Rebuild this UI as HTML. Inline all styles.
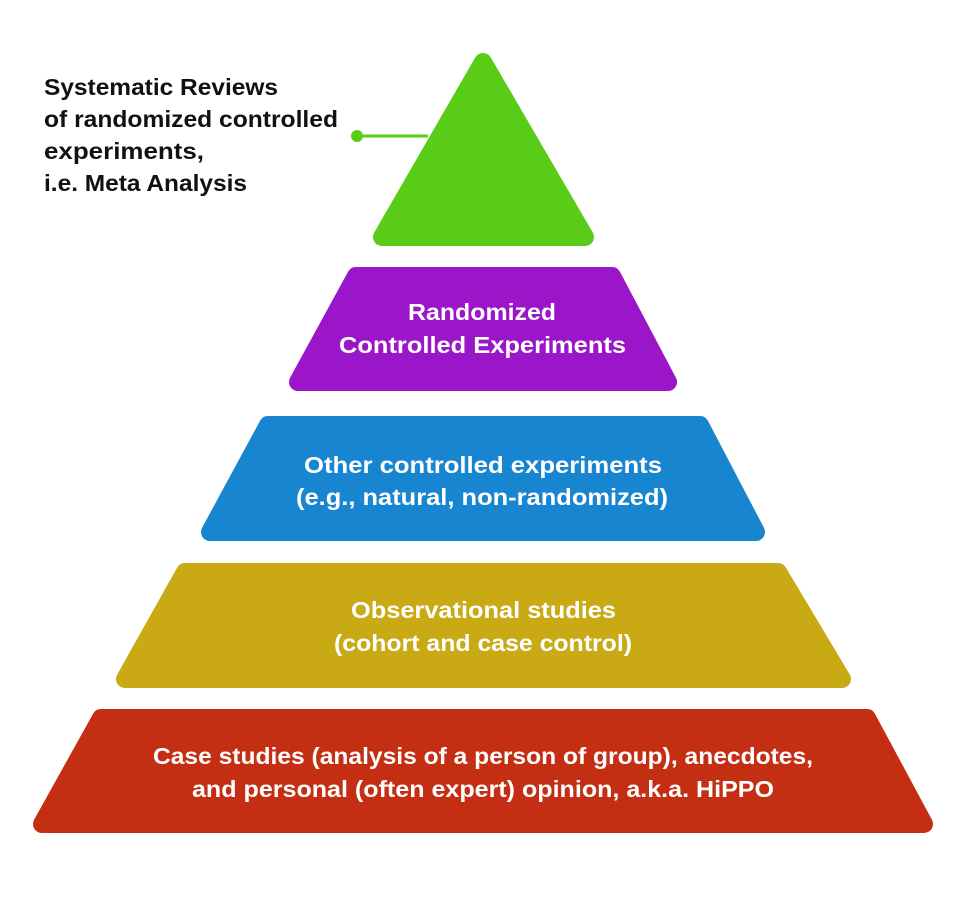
<!DOCTYPE html>
<html><head><meta charset="utf-8"><style>
html,body{margin:0;padding:0;background:#fff;}
svg{display:block}
text{font-family:"Liberation Sans",sans-serif;font-weight:bold;}
</style></head><body>
<svg width="967" height="900" viewBox="0 0 967 900" xmlns="http://www.w3.org/2000/svg">
<rect width="967" height="900" fill="#fff"/>
<g stroke-linejoin="round" stroke-width="18">
<polygon points="483,62 382,237 585,237" fill="#58cc16" stroke="#58cc16"/>
<polygon points="356,276 612,276 668,382 298,382" fill="#9b16c8" stroke="#9b16c8"/>
<polygon points="268,425 700,425 756,532 210,532" fill="#1785cf" stroke="#1785cf"/>
<polygon points="185,572 778,572 842,679 125,679" fill="#c9aa15" stroke="#c9aa15"/>
<polygon points="101,718 867,718 924,824 42,824" fill="#c42e13" stroke="#c42e13"/>
</g>
<line x1="357" y1="136" x2="428" y2="136" stroke="#58cc16" stroke-width="3"/>
<circle cx="357" cy="136" r="6" fill="#58cc16"/>
<g font-size="23" fill="#111">
<text x="44" y="95" textLength="234" lengthAdjust="spacingAndGlyphs">Systematic Reviews</text>
<text x="44" y="127" textLength="294" lengthAdjust="spacingAndGlyphs">of randomized controlled</text>
<text x="44" y="159" textLength="160" lengthAdjust="spacingAndGlyphs">experiments,</text>
<text x="44" y="191" textLength="203" lengthAdjust="spacingAndGlyphs">i.e. Meta Analysis</text>
</g>
<g font-size="23" fill="#fff">
<text x="408" y="320" textLength="148" lengthAdjust="spacingAndGlyphs">Randomized</text>
<text x="339" y="353" textLength="287" lengthAdjust="spacingAndGlyphs">Controlled Experiments</text>
<text x="304" y="473" textLength="358" lengthAdjust="spacingAndGlyphs">Other controlled experiments</text>
<text x="296" y="505" textLength="372" lengthAdjust="spacingAndGlyphs">(e.g., natural, non-randomized)</text>
<text x="351" y="618" textLength="265" lengthAdjust="spacingAndGlyphs">Observational studies</text>
<text x="334" y="651" textLength="298" lengthAdjust="spacingAndGlyphs">(cohort and case control)</text>
<text x="153" y="764" textLength="660" lengthAdjust="spacingAndGlyphs">Case studies (analysis of a person of group), anecdotes,</text>
<text x="192" y="797" textLength="582" lengthAdjust="spacingAndGlyphs">and personal (often expert) opinion, a.k.a. HiPPO</text>
</g>
</svg>
</body></html>
